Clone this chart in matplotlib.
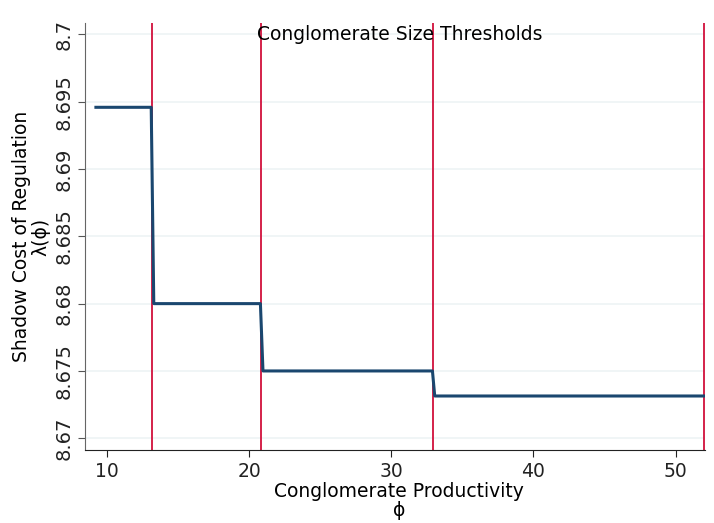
import matplotlib
matplotlib.use('Agg')
import matplotlib.pyplot as plt

# productivity grid points and shadow cost
phi = [9.23, 13.12, 13.30, 20.80, 20.98, 32.90, 33.06, 52.0]
shadow_cost = [8.69458, 8.69458, 8.68000, 8.68000, 8.67500, 8.67500, 8.67314, 8.67314]
thresholds = [13.17, 20.86, 32.92, 52.0]

y_ticks = [8.67, 8.675, 8.68, 8.685, 8.69, 8.695, 8.7]
y_tick_labels = ['8.67', '8.675', '8.68', '8.685', '8.69', '8.695', '8.7']
x_ticks = [10, 20, 30, 40, 50]

fig = plt.figure(figsize=(7.14, 5.23), dpi=100)
ax = fig.add_axes([0.119, 0.1396, 0.868, 0.8164])

for t in thresholds:
    ax.axvline(t, color='#d1103c', lw=1.3, zorder=2)
ax.plot(phi, shadow_cost, color='#1a476f', lw=2.2, zorder=3)

ax.set_xlim(8.46, 52.05)
ax.set_ylim(8.66913, 8.70084)
ax.set_yticks(y_ticks)
ax.set_yticklabels(y_tick_labels, rotation=90, va='center')
ax.set_xticks(x_ticks)
ax.tick_params(axis='both', labelsize=13.5, length=5, width=0.8, colors='#222222')
ax.tick_params(axis='y', labelsize=14, colors='#555555', labelcolor='#222222')
ax.grid(axis='y', color='#eef3f5', lw=1.2, zorder=0)
ax.set_axisbelow(True)

for s in ['top', 'right']:
    ax.spines[s].set_visible(False)
ax.spines['left'].set_color('#666666')
ax.spines['bottom'].set_color('#222222')

ax.set_xlabel('Conglomerate Productivity\nϕ', fontsize=13.5, labelpad=1, linespacing=1.0)
ax.xaxis.label.set_x(0.507)
ax.set_ylabel('Shadow Cost of Regulation\nλ(ϕ)', fontsize=13.5, labelpad=3, linespacing=1.0)
ax.text(0.508, 0.995, 'Conglomerate Size Thresholds', transform=ax.transAxes,
        ha='center', va='top', fontsize=13.5)

fig.savefig('out.png', dpi=100)
